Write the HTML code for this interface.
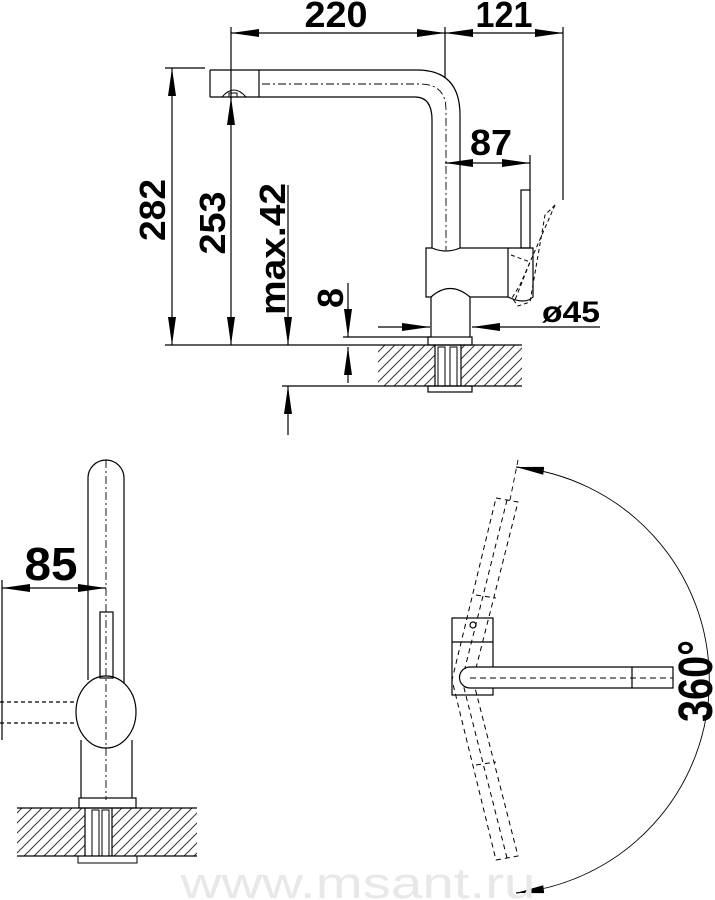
<!DOCTYPE html>
<html><head><meta charset="utf-8"><style>
html,body{margin:0;padding:0;background:#fff;}
svg{display:block;}
text{font-family:"Liberation Sans",sans-serif;font-weight:bold;fill:#000;}
</style></head><body>
<svg width="715" height="900" viewBox="0 0 715 900" xmlns="http://www.w3.org/2000/svg">
<defs>
<marker id="ar" viewBox="0 0 28 8" refX="28" refY="4" markerWidth="28" markerHeight="8" markerUnits="userSpaceOnUse" orient="auto-start-reverse">
<path d="M0,0 L28,4 L0,8 Z" fill="#000"/>
</marker>
<pattern id="hatch" patternUnits="userSpaceOnUse" width="10" height="10">
<path d="M-2,2 L2,-2 M0,10 L10,0 M8,12 L12,8" stroke="#333" stroke-width="1"/>
</pattern>
</defs>

<g fill="none" stroke="#000" stroke-width="1.2">
<!-- ===== TOP DRAWING ===== -->
<!-- extension lines -->
<line x1="231" y1="27" x2="231" y2="100"/>
<line x1="445" y1="27" x2="445" y2="78"/>
<line x1="563" y1="27" x2="563" y2="200"/>
<line x1="530" y1="155" x2="530" y2="190"/>
<!-- 220 / 121 -->
<line x1="231" y1="33" x2="445" y2="33" marker-start="url(#ar)" marker-end="url(#ar)"/>
<line x1="445" y1="33" x2="563" y2="33" marker-start="url(#ar)" marker-end="url(#ar)"/>
<!-- 87 -->
<line x1="445" y1="163" x2="530" y2="163" marker-start="url(#ar)" marker-end="url(#ar)"/>
<!-- 282 -->
<line x1="165" y1="68" x2="205" y2="68"/>
<line x1="172" y1="68" x2="172" y2="345" marker-start="url(#ar)" marker-end="url(#ar)"/>
<!-- 253 -->
<line x1="231" y1="97" x2="231" y2="345" marker-start="url(#ar)" marker-end="url(#ar)"/>
<line x1="165" y1="345" x2="378" y2="345"/>
<!-- max.42 -->
<line x1="288" y1="185" x2="288" y2="345" marker-end="url(#ar)"/>
<line x1="288" y1="435" x2="288" y2="386" marker-end="url(#ar)"/>
<line x1="282" y1="386" x2="378" y2="386"/>
<!-- 8 -->
<line x1="348" y1="283" x2="348" y2="337" marker-end="url(#ar)"/>
<line x1="348" y1="383" x2="348" y2="347" marker-end="url(#ar)"/>
<line x1="343" y1="337" x2="430" y2="337"/>
<!-- ø45 -->
<line x1="378" y1="327" x2="430" y2="327" marker-end="url(#ar)"/>
<line x1="600" y1="327" x2="472" y2="327" marker-end="url(#ar)"/>

<!-- spout -->
<path d="M210,70 L417,70 Q460,70 460,115 L460,248"/>
<path d="M210,97 L415,97 Q432,97 432,120 L432,248"/>
<line x1="210" y1="70" x2="210" y2="97"/>
<line x1="259" y1="70" x2="259" y2="97"/>
<path d="M222,97 Q228,90 234,90 Q240,90 246,97" stroke-width="1"/>
<rect x="229" y="93" width="8" height="4" stroke-width="1"/>
<path d="M262,84 L420,84 Q446,84 446,110 L446,250" stroke-width="0.9" stroke-dasharray="8,3,2,3"/>
<!-- body -->
<path d="M426,248 L432,248 Q446,254 460,248 L508,248 L508,297 L470,297 Q450,280 431,297 L426,297 Z"/>
<path d="M508,248 L533,248 L533,297 Q525,305 508,297"/>
<rect x="521" y="190" width="9" height="58"/>
<path d="M555,205 L520,285 L512,298 L518,306 L530,302 L545,215 Z" stroke-dasharray="4,3" stroke-width="1"/>
<path d="M511,255 L530,262 L515,300" stroke-dasharray="4,3" stroke-width="1"/>
<!-- neck -->
<line x1="431" y1="297" x2="431" y2="337"/>
<line x1="470" y1="297" x2="470" y2="337"/>
<rect x="428" y="337" width="44" height="8"/>
<!-- countertop -->
<rect x="378" y="345" width="57" height="41" fill="url(#hatch)" stroke="none"/>
<rect x="461" y="345" width="61" height="41" fill="url(#hatch)" stroke="none"/>
<line x1="378" y1="345" x2="522" y2="345"/>
<line x1="378" y1="386" x2="522" y2="386"/>
<line x1="435" y1="345" x2="435" y2="386"/>
<line x1="461" y1="345" x2="461" y2="386"/>
<rect x="438" y="347" width="7" height="39" stroke-width="1"/>
<rect x="450" y="347" width="7" height="39" stroke-width="1"/>
<rect x="428" y="386" width="44" height="6"/>

<!-- ===== BOTTOM LEFT ===== -->
<path d="M88,680 L88,478 A18,18 0 0 1 124,478 L124,683"/>
<line x1="106" y1="460" x2="106" y2="800" stroke-dasharray="8,3,2,3" stroke-width="0.9"/>
<rect x="100" y="612" width="13" height="66"/>
<ellipse cx="106" cy="712" rx="30" ry="36"/>
<line x1="81" y1="740" x2="81" y2="798"/>
<line x1="132" y1="740" x2="132" y2="798"/>
<rect x="79" y="798" width="57" height="10"/>
<line x1="2" y1="580" x2="2" y2="740"/>
<line x1="2" y1="588" x2="106" y2="588" marker-start="url(#ar)" marker-end="url(#ar)"/>
<line x1="0" y1="702" x2="76" y2="702" stroke-dasharray="4,3"/>
<line x1="0" y1="723" x2="76" y2="723" stroke-dasharray="4,3"/>
<rect x="17" y="808" width="68" height="48" fill="url(#hatch)" stroke="none"/>
<rect x="112" y="808" width="85" height="48" fill="url(#hatch)" stroke="none"/>
<line x1="17" y1="808" x2="197" y2="808"/>
<line x1="17" y1="856" x2="197" y2="856"/>
<line x1="85" y1="808" x2="85" y2="856"/>
<line x1="112" y1="808" x2="112" y2="856"/>
<rect x="92" y="810" width="7" height="46" stroke-width="1"/>
<rect x="102" y="810" width="7" height="46" stroke-width="1"/>
<rect x="78" y="856" width="59" height="7" stroke-width="1"/>

<!-- ===== BOTTOM RIGHT ===== -->
<path d="M516,467 A214,214 0 0 1 516,893" stroke-width="0.9"/>
<path d="M516,467 L538,470" marker-start="url(#ar)" stroke-width="0.9"/>
<path d="M516,893 L538,890" marker-start="url(#ar)" stroke-width="0.9"/>
<line x1="518" y1="460" x2="510" y2="500" stroke-dasharray="5,4" stroke-width="0.9"/>
<g stroke-dasharray="5,4" stroke-width="1">
<path d="M496,498 L518,502 L473,680 L518,856 L496,860 L452,680 Z"/>
<line x1="507" y1="500" x2="462" y2="680"/>
<line x1="507" y1="858" x2="462" y2="680"/>
<line x1="476" y1="595" x2="496" y2="598"/>
<line x1="476" y1="765" x2="496" y2="762"/>
</g>
<rect x="452" y="618" width="41" height="77"/>
<line x1="452" y1="642" x2="493" y2="642"/>
<circle cx="473" cy="625" r="3"/>
<path d="M673,667 L470,667 A10.5,10.5 0 0 0 470,688 L673,688 Z" fill="#fff"/>
<line x1="632" y1="667" x2="632" y2="688"/>
<line x1="470" y1="678" x2="673" y2="678" stroke-dasharray="6,4" stroke-width="0.9"/>
</g>

<!-- text -->
<text x="336" y="27" font-size="36" text-anchor="middle" textLength="63" lengthAdjust="spacingAndGlyphs">220</text>
<text x="504" y="27" font-size="36" text-anchor="middle" textLength="57" lengthAdjust="spacingAndGlyphs">121</text>
<text x="491" y="155" font-size="36" text-anchor="middle" textLength="42" lengthAdjust="spacingAndGlyphs">87</text>
<text x="571" y="322" font-size="30" text-anchor="middle" textLength="58" lengthAdjust="spacingAndGlyphs">ø45</text>
<text transform="translate(165,210) rotate(-90)" font-size="36" text-anchor="middle" textLength="62" lengthAdjust="spacingAndGlyphs">282</text>
<text transform="translate(225,223) rotate(-90)" font-size="36" text-anchor="middle" textLength="63" lengthAdjust="spacingAndGlyphs">253</text>
<text transform="translate(285,249) rotate(-90)" font-size="36" text-anchor="middle" textLength="132" lengthAdjust="spacingAndGlyphs">max.42</text>
<text transform="translate(343,298) rotate(-90)" font-size="36" text-anchor="middle">8</text>
<text x="51" y="580" font-size="46" text-anchor="middle" textLength="53" lengthAdjust="spacingAndGlyphs">85</text>
<text transform="translate(712,681) rotate(-90)" font-size="48" text-anchor="middle" textLength="82" lengthAdjust="spacingAndGlyphs">360°</text>
<text x="358" y="898" font-size="44" text-anchor="middle" style="font-weight:normal;fill:#e8e8e8" textLength="355" lengthAdjust="spacingAndGlyphs">www.msant.ru</text>
</svg>
</body></html>
